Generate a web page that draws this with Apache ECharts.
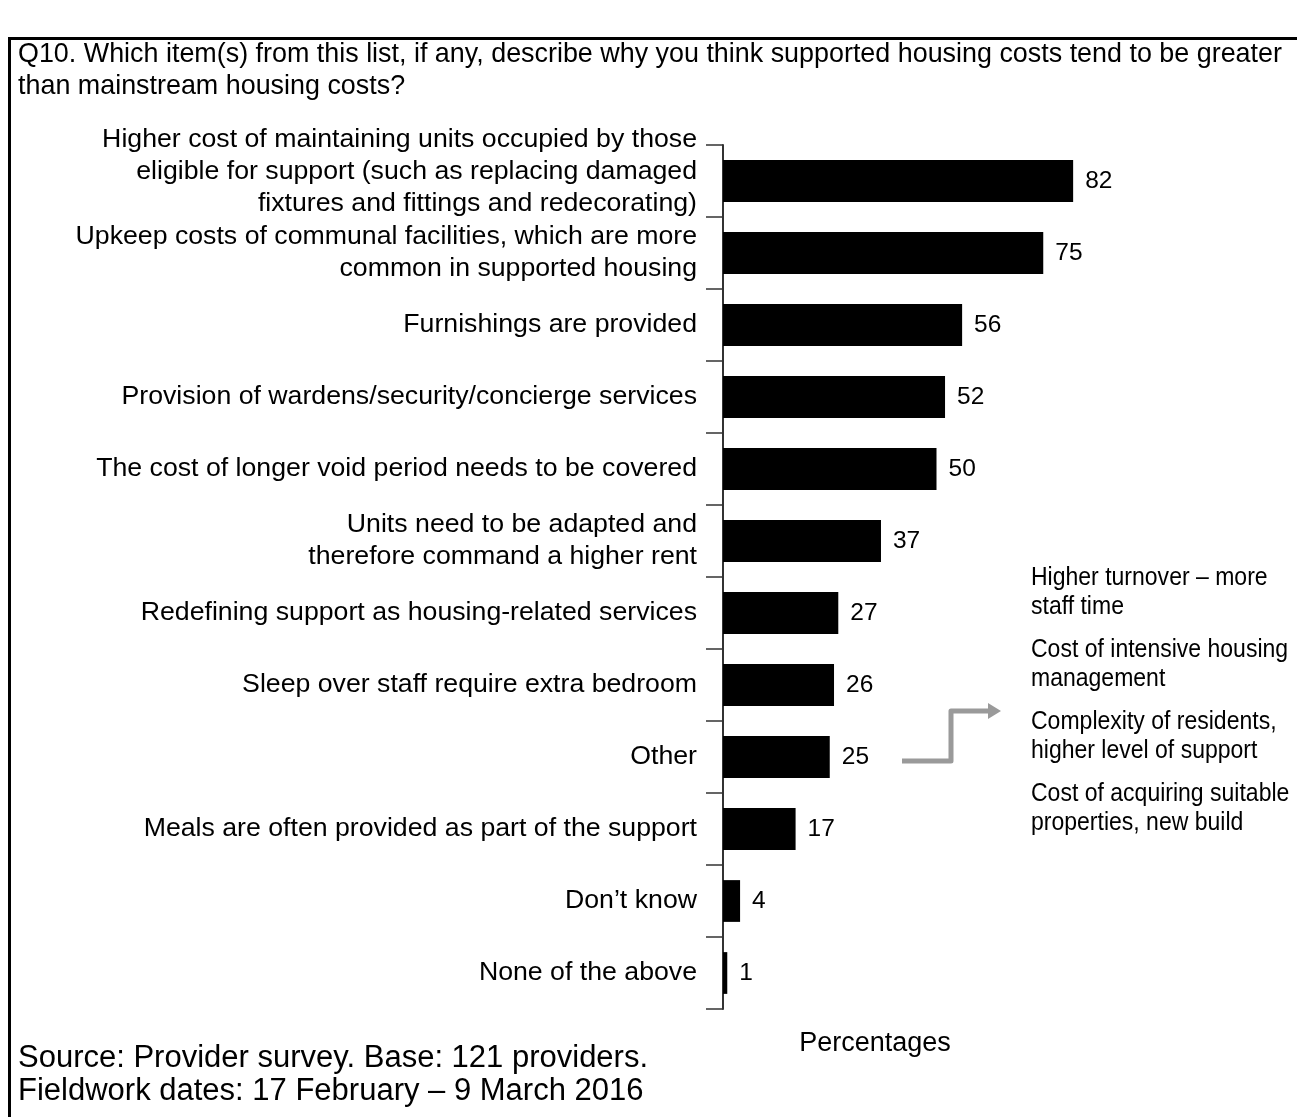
<!DOCTYPE html>
<html>
<head>
<meta charset="utf-8">
<script src="https://cdn.jsdelivr.net/npm/echarts@6/dist/echarts.min.js"></script>
<style>
  html, body { margin: 0; padding: 0; background: #fff; }
  #chart { width: 1297px; height: 1117px; }
</style>
</head>
<body>
<div id="chart"></div>
<script>
// Survey responses: reasons supported housing costs exceed mainstream costs
const categories = [
  'Higher cost of maintaining units occupied by those\neligible for support (such as replacing damaged\nfixtures and fittings and redecorating)',
  'Upkeep costs of communal facilities, which are more\ncommon in supported housing',
  'Furnishings are provided',
  'Provision of wardens/security/concierge services',
  'The cost of longer void period needs to be covered',
  'Units need to be adapted and\ntherefore command a higher rent',
  'Redefining support as housing-related services',
  'Sleep over staff require extra bedroom',
  'Other',
  'Meals are often provided as part of the support',
  'Don\u2019t know',
  'None of the above'
];
const percentages = [82, 75, 56, 52, 50, 37, 27, 26, 25, 17, 4, 1];

const questionText = 'Q10. Which item(s) from this list, if any, describe why you think supported housing costs tend to be greater\nthan mainstream housing costs?';
const otherReasons = [
  'Higher turnover \u2013 more\nstaff time',
  'Cost of intensive housing\nmanagement',
  'Complexity of residents,\nhigher level of support',
  'Cost of acquiring suitable\nproperties, new build'
];
const sourceText = 'Source: Provider survey. Base: 121 providers.\nFieldwork dates: 17 February \u2013 9 March 2016';
const axisTitle = 'Percentages';

const FONT = 'Liberation Sans, Arial, sans-serif';
const chart = echarts.init(document.getElementById('chart'), null, { renderer: 'canvas' });

const graphics = [
  // frame
  { type: 'rect', shape: { x: 9.5, y: 38.5, width: 1400, height: 1200 },
    style: { fill: 'none', stroke: '#000', lineWidth: 3 }, silent: true },
  { type: 'text', left: 18, top: 39,
    style: { text: questionText, font: '26.9px ' + FONT, fill: '#000', lineHeight: 32 } },
  { type: 'text', left: 18, top: 1042,
    style: { text: sourceText, font: '31px ' + FONT, fill: '#000', lineHeight: 33 } },
  { type: 'text', x: 875, y: 1044,
    style: { text: axisTitle, font: '27px ' + FONT, fill: '#000', align: 'center', verticalAlign: 'middle' } },
  // elbow arrow from "Other" to the breakdown
  { type: 'polyline', shape: { points: [[902, 761], [951, 761], [951, 711], [990, 711]] },
    style: { stroke: '#9a9a9a', lineWidth: 5, fill: 'none', lineJoin: 'round' } },
  { type: 'polygon', shape: { points: [[988, 703], [1001, 711], [988, 719]] },
    style: { fill: '#9a9a9a' } }
];
// condensed breakdown of the "Other" answers
otherReasons.forEach((t, i) => {
  graphics.push({ type: 'text', x: 1031, y: 563 + i * 72, scaleX: 0.885,
    style: { text: t, font: '26px ' + FONT, fill: '#000', lineHeight: 29 } });
});

chart.setOption({
  animation: false,
  backgroundColor: '#fff',
  grid: { left: 723, top: 145, width: 427, height: 864, containLabel: false },
  xAxis: {
    type: 'value', min: 0, max: 100,
    show: false
  },
  yAxis: {
    type: 'category',
    inverse: true,
    data: categories,
    axisLine: { show: true, lineStyle: { color: '#333', width: 2 } },
    axisTick: { show: true, length: 17, lineStyle: { color: '#333', width: 1.5 } },
    axisLabel: {
      interval: 0, hideOverlap: false,
      margin: 26, fontSize: 26.7, fontFamily: FONT, color: '#000',
      lineHeight: 32, align: 'right',
      // the three-line first label sits a little higher in its band
      formatter: (v, i) => i === 0 ? v + '\n{gap| }' : v,
      rich: { gap: { fontSize: 2, lineHeight: 18 } }
    },
    splitLine: { show: false }
  },
  series: [{
    type: 'bar',
    data: percentages,
    barCategoryGap: '42%',
    itemStyle: { color: '#000' },
    label: {
      show: true, position: 'right', distance: 12,
      fontSize: 24.5, fontFamily: FONT, color: '#000'
    }
  }],
  graphic: graphics
});
</script>
</body>
</html>
